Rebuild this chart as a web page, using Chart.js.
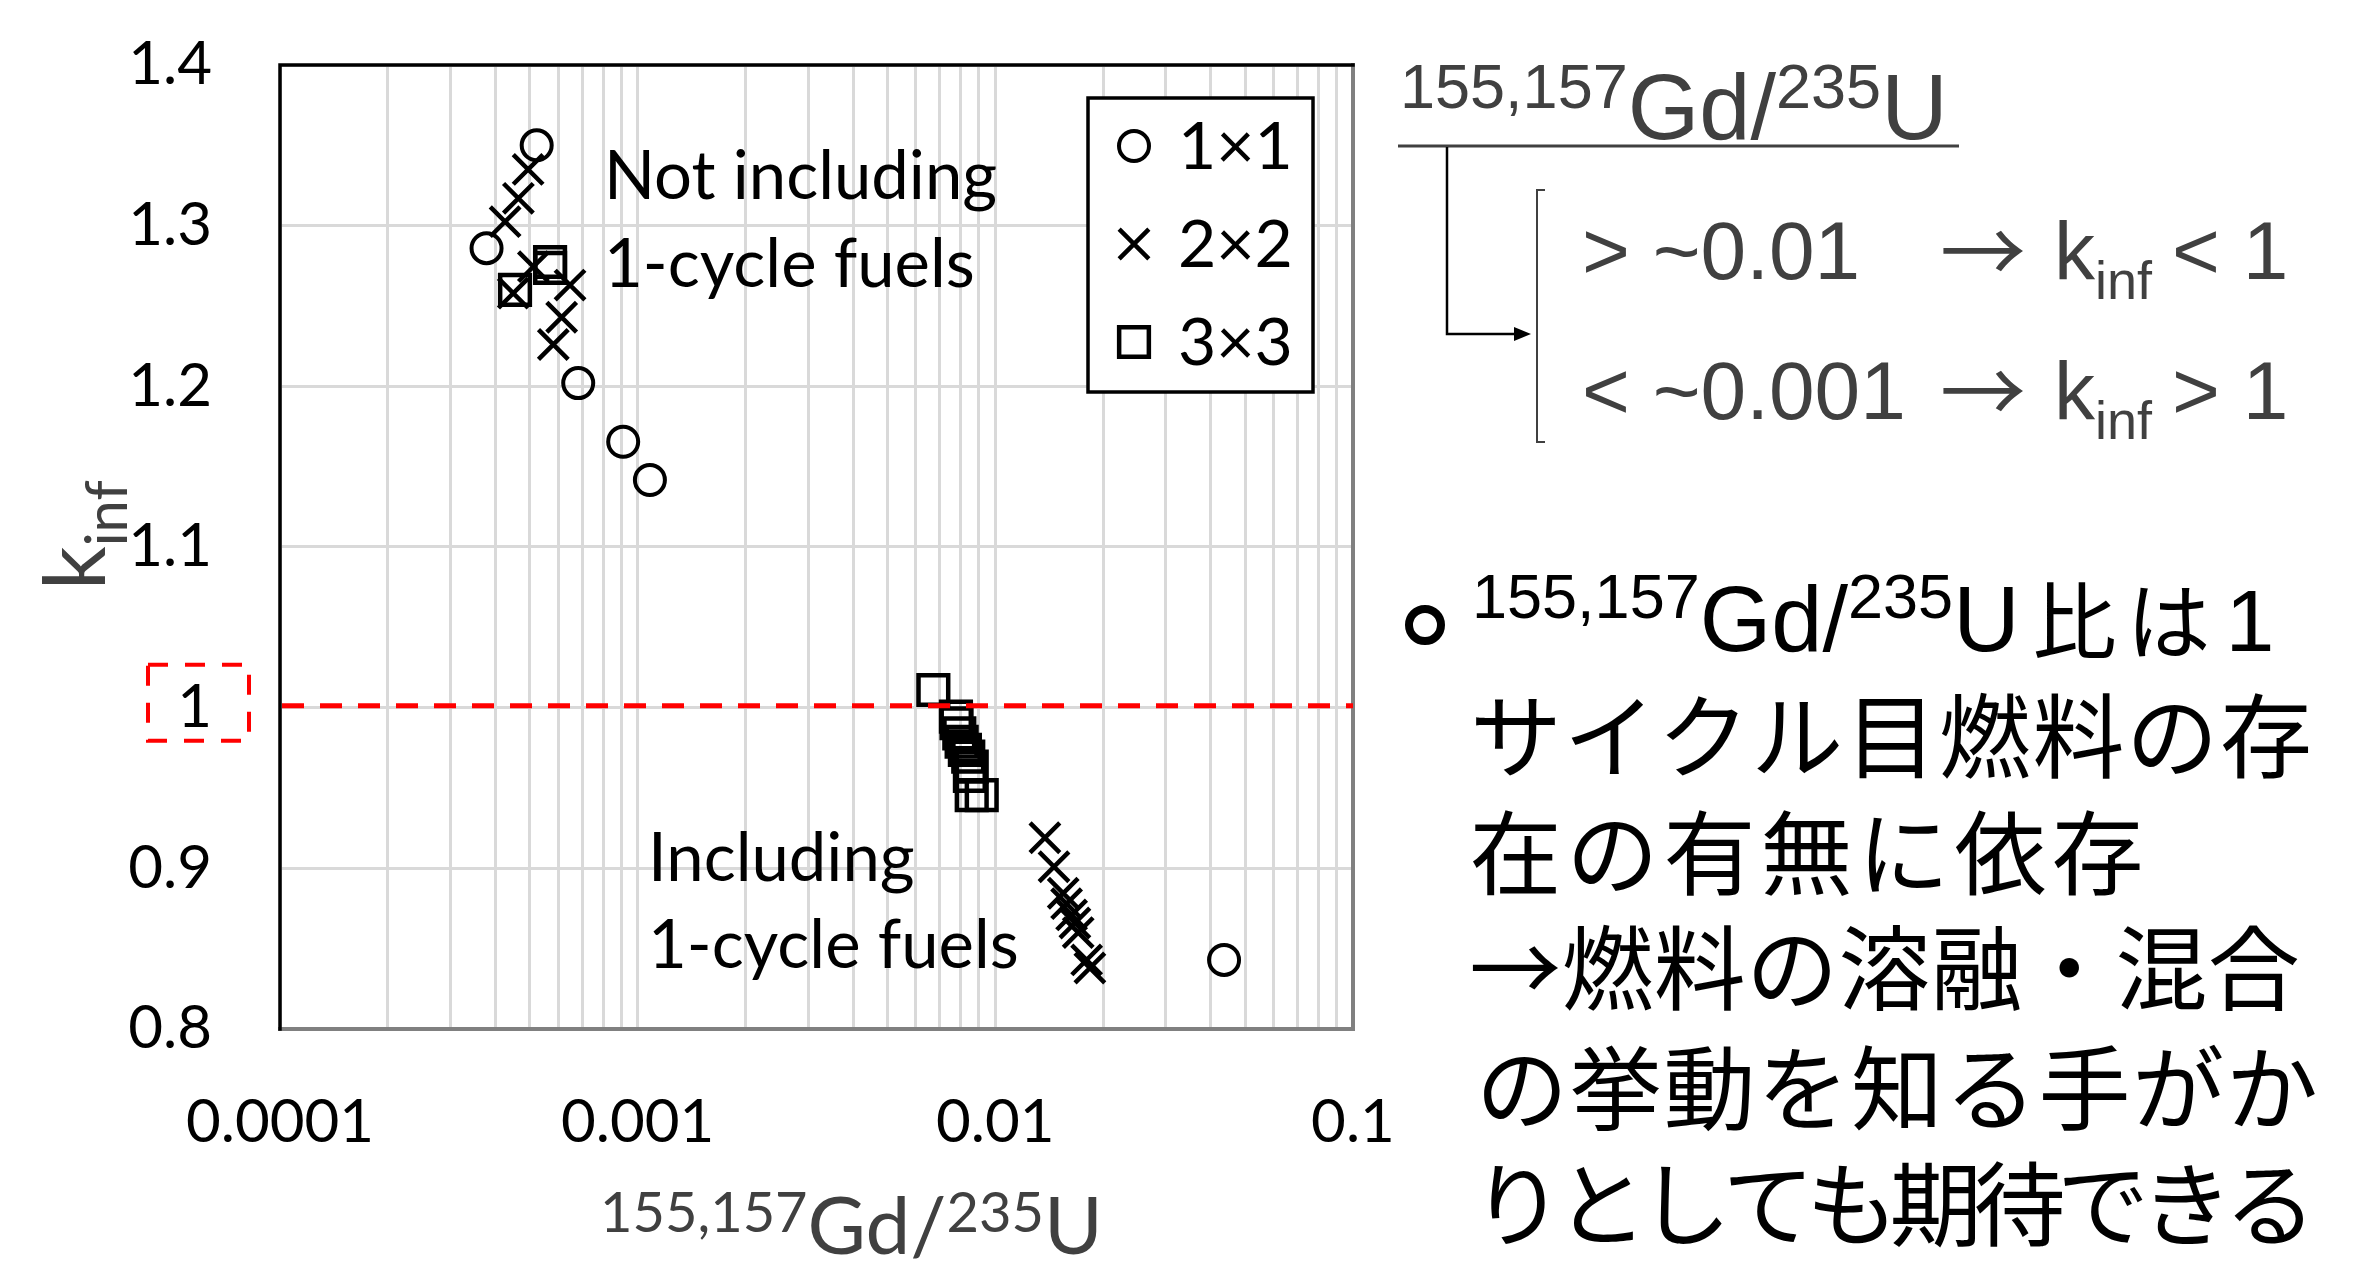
<!DOCTYPE html>
<html lang="ja">
<head>
<meta charset="utf-8">
<title>kinf vs 155,157Gd/235U</title>
<script src="https://cdn.jsdelivr.net/npm/chart.js@4.4.1/dist/chart.umd.min.js"></script>
<style>
  html, body { margin: 0; padding: 0; background: #ffffff; }
  #box { width: 2363px; height: 1271px; }
</style>
</head>
<body>
<div id="box"><canvas id="chart" width="2363" height="1271"></canvas></div>
<script>
// ---------------- data ----------------
const seriesNames = ['1×1', '2×2', '3×3'];

// 1×1 assemblies
const gdU_1x1  = [0.000522, 0.000378, 0.000682, 0.000911, 0.001082, 0.0436];
const kinf_1x1 = [1.350, 1.286, 1.202, 1.1655, 1.1417, 0.843];

// 2×2 assemblies
const gdU_2x2  = [0.000494, 0.000464, 0.000426, 0.000511, 0.000449, 0.000647, 0.000613, 0.000581,
                  0.01376, 0.01459, 0.01548, 0.01582, 0.01634, 0.01669, 0.01705, 0.01800, 0.01838];
const kinf_2x2 = [1.335, 1.317, 1.3025, 1.2745, 1.258, 1.263, 1.243, 1.226,
                  0.919, 0.901, 0.8845, 0.878, 0.871, 0.866, 0.860, 0.843, 0.838];

// 3×3 assemblies
const gdU_3x3  = [0.000569, 0.000569, 0.000454,
                  0.00671, 0.00776, 0.00779, 0.00793, 0.00805, 0.00822, 0.00840, 0.00859, 0.00849, 0.00859, 0.00916];
const kinf_3x3 = [1.2774, 1.2737, 1.260,
                  1.011, 0.9944, 0.9903, 0.984, 0.9788, 0.9737, 0.9695, 0.9633, 0.9575, 0.9456, 0.9456];

// axes
const xDecades    = [0.0001, 0.001, 0.01, 0.1];
const xTickLabels = ['0.0001', '0.001', '0.01', '0.1'];
const yTicks      = [0.8, 0.9, 1.0, 1.1, 1.2, 1.3, 1.4];
const yTickLabels = ['0.8', '0.9', '1', '1.1', '1.2', '1.3', '1.4'];
const criticalK   = 1;

// ---------------- helpers ----------------
const LATO  = 'Lato, "DejaVu Sans", sans-serif';
const ARIAL = '"Liberation Sans", Arial, sans-serif';
const CJK   = '"Noto Sans CJK JP", "Noto Sans CJK SC", sans-serif';
const GREY  = '#404040';

const zip = (xs, ys) => xs.map((x, i) => ({ x, y: ys[i] }));

// draws a sequence of text runs (for super/subscripts); returns end x
function drawRuns(ctx, x, y, runs, color) {
  ctx.save();
  ctx.textAlign = 'left';
  ctx.textBaseline = 'alphabetic';
  ctx.fillStyle = color;
  for (const r of runs) {
    ctx.font = r.font;
    ctx.fillText(r.text, x, y + (r.dy || 0));
    x += ctx.measureText(r.text).width;
  }
  ctx.restore();
  return x;
}

// draws characters evenly spread between x0 and x1, vertically centred on cy
function drawSpread(ctx, text, x0, x1, cy, font, color) {
  const chars = Array.from(text);
  const pitch = (x1 - x0) / chars.length;
  ctx.save();
  ctx.font = font;
  ctx.fillStyle = color;
  ctx.textAlign = 'center';
  ctx.textBaseline = 'middle';
  chars.forEach((ch, i) => ctx.fillText(ch, x0 + pitch * (i + 0.5), cy));
  ctx.restore();
}

// ---------------- plugins ----------------
const framePlugin = {
  id: 'plotFrame',
  afterDatasetsDraw(chart) {
    const { ctx, chartArea: a } = chart;
    ctx.save();
    ctx.lineCap = 'square';
    ctx.strokeStyle = '#808080';
    ctx.lineWidth = 4;
    ctx.beginPath();
    ctx.moveTo(a.left, a.bottom); ctx.lineTo(a.right, a.bottom); ctx.lineTo(a.right, a.top);
    ctx.stroke();
    ctx.strokeStyle = '#000000';
    ctx.lineWidth = 3.5;
    ctx.beginPath();
    ctx.moveTo(a.left, a.bottom); ctx.lineTo(a.left, a.top); ctx.lineTo(a.right, a.top);
    ctx.stroke();
    ctx.restore();
  }
};

const refLinePlugin = {
  id: 'refLine',
  afterDatasetsDraw(chart) {
    const { ctx, chartArea: a, scales: { y } } = chart;
    const py = y.getPixelForValue(criticalK);
    ctx.save();
    ctx.strokeStyle = '#ff0000';
    ctx.lineWidth = 5;
    ctx.setLineDash([22, 16]);
    ctx.beginPath();
    ctx.moveTo(a.left + 2, py - 2); ctx.lineTo(a.right, py - 2);
    ctx.stroke();
    // highlight box around the k = 1 tick label
    ctx.lineWidth = 4;
    ctx.setLineDash([20, 17]);
    ctx.strokeRect(148, py - 43, 101, 76);
    ctx.restore();
  }
};

const legendBoxPlugin = {
  id: 'legendBox',
  afterDatasetsDraw(chart) {
    const { ctx } = chart;
    const x0 = 1088, y0 = 98, w = 225, h = 294;
    ctx.save();
    ctx.fillStyle = '#ffffff';
    ctx.fillRect(x0, y0, w, h);
    ctx.strokeStyle = '#000000';
    ctx.lineWidth = 3.5;
    ctx.strokeRect(x0, y0, w, h);
    chart.data.datasets.forEach((ds, i) => {
      const cy = y0 + 48 + i * 98;
      ctx.strokeStyle = '#000000';
      ctx.fillStyle = 'rgba(0,0,0,0)';
      ctx.lineWidth = ds.borderWidth;
      Chart.helpers.drawPoint(ctx, {
        pointStyle: ds.pointStyle, radius: ds.pointRadius, rotation: 0, borderWidth: ds.borderWidth
      }, x0 + 46, cy);
      ctx.fillStyle = '#000000';
      ctx.font = `66px ${LATO}`;
      ctx.textAlign = 'left';
      ctx.textBaseline = 'middle';
      ctx.fillText(ds.label, x0 + 90, cy + 2);
    });
    ctx.restore();
  }
};

const notesPlugin = {
  id: 'plotNotes',
  afterDatasetsDraw(chart) {
    const { ctx } = chart;
    ctx.save();
    ctx.fillStyle = '#000000';
    ctx.font = `67px ${LATO}`;
    ctx.textAlign = 'left';
    ctx.textBaseline = 'alphabetic';
    ctx.fillText('Not including', 604, 199);
    ctx.fillText('1-cycle fuels', 604, 287);
    ctx.fillText('Including', 648, 881);
    ctx.fillText('1-cycle fuels', 648, 968);
    ctx.restore();
  }
};

const titlesPlugin = {
  id: 'axisTitles',
  afterDraw(chart) {
    const { ctx } = chart;
    // x title
    drawRuns(ctx, 600, 1254, [
      { text: '155,157', font: `56px ${LATO}`, dy: -22 },
      { text: 'Gd/', font: `80px ${LATO}` },
      { text: '235', font: `56px ${LATO}`, dy: -22 },
      { text: 'U', font: `80px ${LATO}` }
    ], GREY);
    // y title (rotated)
    ctx.save();
    ctx.translate(105, 590);
    ctx.rotate(-Math.PI / 2);
    drawRuns(ctx, 0, 0, [
      { text: 'k', font: `86px ${LATO}` },
      { text: 'inf', font: `58px ${LATO}`, dy: 22 }
    ], GREY);
    ctx.restore();
  }
};

const sidePanelPlugin = {
  id: 'sidePanel',
  afterDraw(chart) {
    const { ctx } = chart;
    const sup = `63px ${ARIAL}`, big = `92px ${ARIAL}`;

    // heading ratio with underline
    const endX = drawRuns(ctx, 1400, 139, [
      { text: '155,157', font: sup, dy: -31 },
      { text: 'Gd/', font: big },
      { text: '235', font: sup, dy: -31 },
      { text: 'U', font: big }
    ], GREY);
    ctx.save();
    ctx.strokeStyle = GREY;
    ctx.lineWidth = 3;
    ctx.beginPath(); ctx.moveTo(1398, 146); ctx.lineTo(Math.max(endX + 2, 1959), 146); ctx.stroke();

    // connector with arrow head
    ctx.strokeStyle = '#000000';
    ctx.lineWidth = 2.5;
    ctx.beginPath(); ctx.moveTo(1447, 147); ctx.lineTo(1447, 334); ctx.lineTo(1516, 334); ctx.stroke();
    ctx.fillStyle = '#000000';
    ctx.beginPath(); ctx.moveTo(1531, 334); ctx.lineTo(1514, 327); ctx.lineTo(1514, 341); ctx.closePath(); ctx.fill();

    // bracket
    ctx.strokeStyle = GREY;
    ctx.lineWidth = 2;
    ctx.beginPath(); ctx.moveTo(1545, 190); ctx.lineTo(1537, 190); ctx.lineTo(1537, 442); ctx.lineTo(1545, 442); ctx.stroke();
    ctx.restore();

    // conditions
    const cf = `82px ${ARIAL}`, sub = `54px ${ARIAL}`, arrowFont = `86px ${CJK}`;
    const rows = [
      { y: 279, a: '> ~0.01', b: '< 1' },
      { y: 419, a: '< ~0.001', b: '> 1' }
    ];
    rows.forEach(r => {
      drawRuns(ctx, 1582, r.y, [{ text: r.a, font: cf }], GREY);
      drawRuns(ctx, 1940, r.y + 5, [{ text: '→', font: arrowFont }], GREY);
      drawRuns(ctx, 2054, r.y, [{ text: 'k', font: cf }, { text: 'inf', font: sub, dy: 20 }], GREY);
      drawRuns(ctx, 2172, r.y, [{ text: r.b, font: cf }], GREY);
    });

    // bullet note
    ctx.save();
    ctx.strokeStyle = '#000000';
    ctx.lineWidth = 8;
    ctx.beginPath(); ctx.arc(1425, 625, 16, 0, Math.PI * 2); ctx.stroke();
    ctx.restore();

    const e1 = drawRuns(ctx, 1472, 651, [
      { text: '155,157', font: sup, dy: -33 },
      { text: 'Gd/', font: big },
      { text: '235', font: sup, dy: -33 },
      { text: 'U', font: big }
    ], '#000000');
    drawSpread(ctx, '比は', e1 + 8, e1 + 196, 621, `84px ${CJK}`, '#000000');
    drawRuns(ctx, e1 + 206, 651, [{ text: '1', font: `88px ${ARIAL}` }], '#000000');

    const jf = `92px ${CJK}`;
    drawSpread(ctx, 'サイクル目燃料の存', 1469, 2313, 736, jf, '#000000');
    drawSpread(ctx, '在の有無に依存', 1467, 2146, 853, jf, '#000000');
    drawSpread(ctx, '→燃料の溶融・混合', 1469, 2300, 968, jf, '#000000');
    drawSpread(ctx, 'の挙動を知る手がか', 1475, 2319, 1088, jf, '#000000');
    drawSpread(ctx, 'りとしても期待できる', 1476, 2312, 1204, jf, '#000000');
  }
};

// ---------------- chart ----------------
const markerCircle = { pointStyle: 'circle',   pointRadius: 15, borderWidth: 4 };
const markerCross  = { pointStyle: 'crossRot', pointRadius: 21, borderWidth: 4.5 };
const markerSquare = { pointStyle: 'rect',     pointRadius: 21, borderWidth: 4.5 };

const datasets = [
  Object.assign({ label: seriesNames[0], data: zip(gdU_1x1, kinf_1x1), order: 2 }, markerCircle),
  Object.assign({ label: seriesNames[1], data: zip(gdU_2x2, kinf_2x2), order: 1 }, markerCross),
  Object.assign({ label: seriesNames[2], data: zip(gdU_3x3, kinf_3x3), order: 0 }, markerSquare)
].map(ds => Object.assign(ds, {
  borderColor: '#000000',
  backgroundColor: 'rgba(0,0,0,0)',
  pointBorderColor: '#000000',
  pointBackgroundColor: 'rgba(0,0,0,0)',
  pointBorderWidth: ds.borderWidth,
  pointHoverRadius: ds.pointRadius
}));

new Chart(document.getElementById('chart'), {
  type: 'scatter',
  data: { datasets },
  options: {
    responsive: false,
    animation: false,
    events: [],
    layout: { padding: { left: 0, top: 65, right: 1010, bottom: 0 } },
    plugins: {
      legend: { display: false },
      tooltip: { enabled: false }
    },
    scales: {
      x: {
        type: 'logarithmic',
        min: xDecades[0],
        max: xDecades[xDecades.length - 1],
        afterBuildTicks(axis) {
          const t = [];
          xDecades.forEach((d, i) => {
            const last = i === xDecades.length - 1;
            for (let m = 1; m <= (last ? 1 : 9); m++) t.push({ value: d * m, major: m === 1 });
          });
          axis.ticks = t;
        },
        afterFit(axis) { axis.height = 242; axis.paddingLeft = 0; axis.paddingRight = 0; },
        border: { display: false },
        grid: { color: '#d9d9d9', lineWidth: 3, drawTicks: false },
        ticks: {
          autoSkip: false, maxRotation: 0, minRotation: 0,
          padding: 58,
          color: '#000000',
          font: { family: LATO, size: 60 },
          callback(value) {
            const i = xDecades.indexOf(value);
            return i >= 0 ? xTickLabels[i] : '';
          }
        }
      },
      y: {
        type: 'linear',
        min: yTicks[0],
        max: yTicks[yTicks.length - 1],
        afterBuildTicks(axis) { axis.ticks = yTicks.map(v => ({ value: v })); },
        afterFit(axis) { axis.width = 280; axis.paddingTop = 0; axis.paddingBottom = 0; },
        border: { display: false },
        grid: { color: '#d9d9d9', lineWidth: 3, drawTicks: false },
        ticks: {
          padding: 68,
          color: '#000000',
          font: { family: LATO, size: 60 },
          callback(value) {
            const i = yTicks.indexOf(value);
            return i >= 0 ? yTickLabels[i] : '';
          }
        }
      }
    }
  },
  plugins: [framePlugin, refLinePlugin, legendBoxPlugin, notesPlugin, titlesPlugin, sidePanelPlugin]
});
</script>
</body>
</html>
